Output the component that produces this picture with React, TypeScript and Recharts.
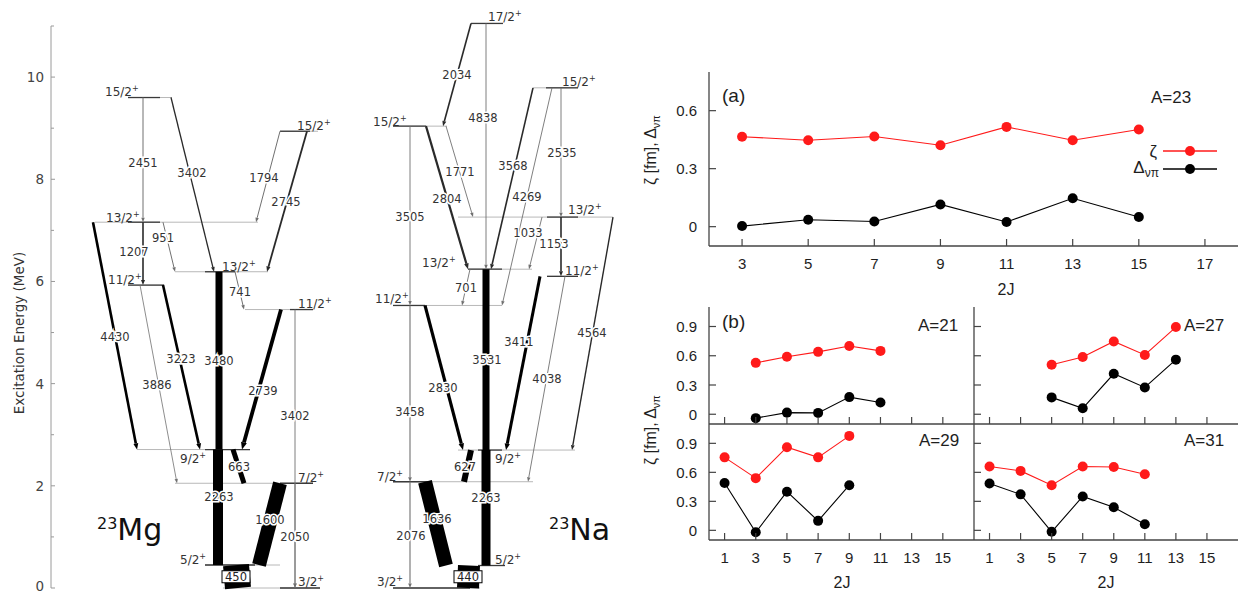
import React from 'react';
import { ScatterChart, Scatter, XAxis, YAxis, ReferenceLine, LineChart, Line, Legend } from 'recharts';

const SANS = '"Liberation Sans", Arial, Helvetica, sans-serif';
const SFONT = '"DejaVu Sans", Verdana, sans-serif';
const RED = '#ff1a1a';
const FRAME = '#444';
const TXT = '#1e1e1e';

/* ================= 23Mg level scheme : values ================= */
const mgLevelE = [9.6, 8.94, 7.16, 6.19, 5.93, 5.45, 2.71, 2.05, 0.45, 0];
const mgLevelJ = ['15/2', '15/2', '13/2', '13/2', '11/2', '11/2', '9/2', '7/2', '5/2', '3/2'];
const mgGamma = ['2451', '3402', '1794', '2745', '1207', '951', '741', '3480', '4430', '3886', '3223', '2739', '3402', '663', '2263', '1600', '2050', '450'];
const mgFrom = [0, 0, 1, 1, 2, 2, 3, 3, 2, 4, 4, 5, 5, 6, 6, 7, 7, 8];
const mgTo = [2, 3, 2, 3, 4, 3, 5, 6, 6, 7, 6, 6, 9, 7, 8, 8, 9, 9];
/* relative intensities, drawn as line thickness */
const mgIntensity = [1, 1.3, 1, 1.8, 1.6, 1, 1, 7, 2.6, 0.8, 2.6, 3.8, 0.9, 5, 10, 14, 0.9, 26];

/* 23Mg layout (horizontal placement in the drawing) */
const mgLevelSpan = [[128, 172], [280, 318], [95, 258], [175, 268], [128, 164], [245, 313], [137, 250], [175, 313], [205, 280], [223, 320]];
const mgLevelCore = [[128, 160], [280, 310], [128, 160], [205, 235], [128, 164], [290, 313], [205, 250], [280, 313], [205, 255], [280, 320]];
const mgJPos = [[105, 9.71], [297, 9.06], [106, 7.26], [222, 6.3], [108, 6.03], [298, 5.56], [180, 2.54], [298, 2.17], [180, 0.55], [298, 0.12]];
const mgGammaX = [[143, 143], [171, 214], [280, 256], [307, 267], [143, 143], [163, 175], [235, 244], [219, 219], [93, 137], [140, 177], [163, 200], [281, 242], [295, 295], [233, 244], [218, 218], [280, 259], [295, 295], [236, 238]];
const mgGammaLabelPos = [[143, 8.32], [192, 8.12], [264, 8.03], [286, 7.56], [134, 6.58], [163, 6.85], [240, 5.79], [219, 4.44], [115, 4.91], [157, 3.97], [181, 4.48], [263, 3.86], [295, 3.37], [239, 2.37], [219, 1.78], [270, 1.33], [295, 1.0], [236, 0.22]];

/* ================= 23Na level scheme : values ================= */
const naLevelE = [11.05, 9.79, 9.04, 7.26, 6.24, 6.1, 5.53, 2.7, 2.08, 0.44, 0];
const naLevelJ = ['17/2', '15/2', '15/2', '13/2', '13/2', '11/2', '11/2', '9/2', '7/2', '5/2', '3/2'];
const naGamma = ['2034', '4838', '3505', '1771', '2804', '3568', '4269', '2535', '1153', '1033', '701', '3531', '4564', '3411', '4038', '2830', '3458', '2076', '627', '2263', '1636', '440'];
const naFrom = [0, 0, 2, 2, 2, 1, 1, 1, 3, 3, 4, 4, 3, 5, 5, 6, 6, 8, 7, 7, 8, 9];
const naTo = [2, 4, 6, 3, 4, 4, 6, 3, 5, 4, 6, 7, 7, 7, 8, 7, 8, 10, 8, 9, 9, 10];
const naIntensity = [1.6, 0.9, 0.9, 0.9, 2.2, 1.6, 0.9, 0.9, 1.6, 0.9, 0.9, 7, 1.4, 3, 0.9, 3.2, 1.1, 1.1, 6, 9, 14, 22];

/* 23Na layout */
const naLevelSpan = [[471, 503], [533, 578], [393, 447], [458, 613], [468, 532], [547, 578], [393, 502], [458, 575], [393, 533], [478, 505], [393, 480]];
const naLevelCore = [[471, 503], [546, 578], [393, 426], [547, 578], [468, 502], [547, 578], [393, 425], [478, 502], [393, 430], [478, 505], [393, 470]];
const naJPos = [[488, 11.18], [562, 9.92], [373, 9.14], [568, 7.4], [422, 6.38], [565, 6.22], [375, 5.66], [495, 2.54], [377, 2.19], [495, 0.55], [377, 0.12]];
const naGammaX = [[471, 443], [486, 486], [410, 410], [446, 473], [426, 468], [533, 491], [552, 502], [561, 561], [561, 561], [542, 529], [470, 462], [486, 486], [613, 572], [540, 506], [565, 528], [425, 463], [410, 410], [410, 410], [471, 464], [486, 486], [425, 446], [469, 468]];
const naGammaLabelPos = [[457, 10.04], [483, 9.2], [410, 7.26], [460, 8.14], [447, 7.61], [513, 8.26], [527, 7.65], [562, 8.51], [554, 6.73], [528, 6.95], [466, 5.87], [487, 4.46], [592, 4.99], [519, 4.82], [547, 4.09], [443, 3.91], [410, 3.44], [411, 1.02], [465, 2.37], [486, 1.76], [437, 1.35], [468, 0.22]];

const energyTicks = [0, 1, 2, 3, 4, 5, 6, 7, 8, 9, 10, 11];

/* ================= zeta / Delta panels : values ================= */
const twoJ_A23 = [3, 5, 7, 9, 11, 13, 15];
const zeta_A23 = [0.465, 0.447, 0.466, 0.421, 0.516, 0.447, 0.503];
const delta_A23 = [0.003, 0.036, 0.027, 0.115, 0.024, 0.147, 0.05];

const twoJ_A21 = [3, 5, 7, 9, 11];
const zeta_A21 = [0.527, 0.59, 0.64, 0.7, 0.65];
const delta_A21 = [-0.04, 0.017, 0.014, 0.176, 0.12];

const twoJ_A27 = [5, 7, 9, 11, 13];
const zeta_A27 = [0.507, 0.588, 0.747, 0.608, 0.894];
const delta_A27 = [0.173, 0.061, 0.415, 0.275, 0.56];

const twoJ_A29 = [1, 3, 5, 7, 9];
const zeta_A29 = [0.755, 0.54, 0.86, 0.755, 0.977];
const delta_A29 = [0.49, -0.02, 0.4, 0.098, 0.467];

const twoJ_A31 = [1, 3, 5, 7, 9, 11];
const zeta_A31 = [0.66, 0.615, 0.467, 0.66, 0.655, 0.58];
const delta_A31 = [0.485, 0.372, -0.015, 0.35, 0.238, 0.063];

const xTicksA = [3, 5, 7, 9, 11, 13, 15, 17];
const yTicksA = [0, 0.3, 0.6];
const xTicksB = [1, 3, 5, 7, 9, 11, 13, 15];
const yTicksB = [0, 0.3, 0.6, 0.9];

/* ================= level scheme drawing ================= */
const E_MAX = 11.4;
const MEV_PX = 562 / 11;
const SCHEME_H = 594;
const SCHEME_BOTTOM = 6;
const SCHEME_TOP = SCHEME_H - SCHEME_BOTTOM - E_MAX * MEV_PX;
const X_MIN = 51;
const X_MAX = 640;

const toneOf = (w: number) => (w >= 2.5 ? '#000' : w >= 1.25 ? '#2a2a2a' : '#707070');

function TransitionShape(props: any) {
  const { x1, y1, x2, y2, stroke } = props;
  const w = Number(props.strokeWidth);
  const dx = x2 - x1;
  const dy = y2 - y1;
  const len = Math.hypot(dx, dy);
  if (w >= 4.5 || len === 0) {
    return <line x1={x1} y1={y1} x2={x2} y2={y2} stroke={stroke} strokeWidth={w} />;
  }
  const ux = dx / len;
  const uy = dy / len;
  const al = 3.5 + w * 1.0;
  const ah = 1.3 + w * 0.45;
  const bx = x2 - ux * al;
  const by = y2 - uy * al;
  const pts = `${x2},${y2} ${bx - uy * ah},${by + ux * ah} ${bx + uy * ah},${by - ux * ah}`;
  return (
    <g>
      <line x1={x1} y1={y1} x2={bx} y2={by} stroke={stroke} strokeWidth={w} />
      <polygon points={pts} fill={stroke} />
    </g>
  );
}

function buildLines(prefix: string, levelE: number[], span: number[][], core: number[][], from: number[], to: number[], gx: number[][], gw: number[]) {
  const out: any[] = [];
  levelE.forEach((E, i) => {
    out.push(
      <ReferenceLine key={`${prefix}s${i}`} segment={[{ x: span[i][0], y: E }, { x: span[i][1], y: E }]} stroke="#b8b8b8" strokeWidth={1} ifOverflow="visible" />
    );
    out.push(
      <ReferenceLine key={`${prefix}c${i}`} segment={[{ x: core[i][0], y: E }, { x: core[i][1], y: E }]} stroke="#3a3a3a" strokeWidth={1.3} ifOverflow="visible" />
    );
  });
  from.forEach((f, k) => {
    const w = gw[k];
    out.push(
      <ReferenceLine
        key={`${prefix}g${k}`}
        segment={[{ x: gx[k][0], y: levelE[f] }, { x: gx[k][1], y: levelE[to[k]] }]}
        stroke={toneOf(w)}
        strokeWidth={w}
        ifOverflow="visible"
        shape={TransitionShape}
      />
    );
  });
  return out;
}

const schemeLabels = [
  ...mgLevelJ.map((t, i) => ({ x: mgJPos[i][0], E: mgJPos[i][1], text: t, kind: 'J' })),
  ...mgGamma.map((t, i) => ({ x: mgGammaLabelPos[i][0], E: mgGammaLabelPos[i][1], text: t, kind: mgIntensity[i] > 20 ? 'box' : 'g' })),
  ...naLevelJ.map((t, i) => ({ x: naJPos[i][0], E: naJPos[i][1], text: t, kind: 'J' })),
  ...naGamma.map((t, i) => ({ x: naGammaLabelPos[i][0], E: naGammaLabelPos[i][1], text: t, kind: naIntensity[i] > 20 ? 'box' : 'g' })),
  { x: 97, E: 0.94, text: 'Mg', mass: '23', kind: 'title' },
  { x: 549, E: 0.94, text: 'Na', mass: '23', kind: 'title' },
];

function SchemeLabel(props: any) {
  const p = props.payload || {};
  const cx = props.cx;
  const cy = props.cy;
  if (p.kind === 'J') {
    return (
      <text x={cx} y={cy + 4.5} fontSize={12} fill="#333" fontFamily={SFONT}>
        {p.text}
        <tspan fontSize={8} dy={-5}>+</tspan>
      </text>
    );
  }
  if (p.kind === 'box') {
    return (
      <g>
        <rect x={cx - 14} y={cy - 6} width={28} height={12} fill="#fff" stroke="#000" strokeWidth={1} />
        <text x={cx} y={cy + 4.3} textAnchor="middle" fontSize={11.5} fill="#222" fontFamily={SFONT}>{p.text}</text>
      </g>
    );
  }
  if (p.kind === 'title') {
    return (
      <text x={cx} y={cy} fontSize={30} fill="#111" fontFamily={SFONT}>
        <tspan fontSize={16} dy={-11}>{p.mass}</tspan>
        <tspan dy={11}>{p.text}</tspan>
      </text>
    );
  }
  return (
    <text x={cx} y={cy + 4.2} textAnchor="middle" fontSize={11.5} fill="#333" stroke="#fff" strokeWidth={3} paintOrder="stroke" fontFamily={SFONT}>
      {p.text}
    </text>
  );
}

function SchemeTick(props: any) {
  const { x, y, payload } = props;
  const v = payload.value;
  const even = v % 2 === 0;
  return (
    <g>
      <line x1={x + 7} x2={x + 7 + (even ? 4 : 3)} y1={y} y2={y} stroke="#999" strokeWidth={1} />
      {even && (
        <text x={x} y={v === 0 ? y + 2.5 : y + 5} textAnchor="end" fontSize={13.5} fill="#444" fontFamily={SFONT}>
          {v}
        </text>
      )}
    </g>
  );
}

function LevelScheme() {
  const lines = [
    ...buildLines('mg', mgLevelE, mgLevelSpan, mgLevelCore, mgFrom, mgTo, mgGammaX, mgIntensity),
    ...buildLines('na', naLevelE, naLevelSpan, naLevelCore, naFrom, naTo, naGammaX, naIntensity),
  ];
  return (
    <ScatterChart width={X_MAX} height={SCHEME_H} margin={{ top: SCHEME_TOP, right: 0, bottom: SCHEME_BOTTOM, left: 0 }}>
      <XAxis type="number" dataKey="x" domain={[X_MIN, X_MAX]} hide height={0} allowDataOverflow />
      <YAxis
        type="number"
        dataKey="E"
        domain={[0, E_MAX]}
        ticks={energyTicks}
        interval={0}
        width={X_MIN}
        axisLine={false}
        tickLine={false}
        tickSize={0}
        tickMargin={7}
        tick={SchemeTick}
        allowDataOverflow
      />
      <ReferenceLine segment={[{ x: X_MIN, y: 0 }, { x: X_MIN, y: 11 }]} stroke="#9a9a9a" strokeWidth={1} ifOverflow="visible" />
      {lines}
      <Scatter data={schemeLabels} shape={SchemeLabel} isAnimationActive={false} />
    </ScatterChart>
  );
}

/* ================= zeta / Delta panels ================= */
const TICK = 7;
const Y_TM = 12;
const X_TM = 17;
const fmtY = (v: number) => (Math.abs(v) < 1e-9 ? '0' : v.toFixed(1));

function LeftTick(props: any) {
  const { x, y, payload, show } = props;
  const ax = x + Y_TM;
  return (
    <g>
      <line x1={ax} x2={ax + TICK} y1={y} y2={y} stroke={FRAME} strokeWidth={1.2} />
      {show && (
        <text x={x} y={y + 5.5} textAnchor="end" fontSize={15} fill={TXT} fontFamily={SANS}>
          {fmtY(payload.value)}
        </text>
      )}
    </g>
  );
}
function RightTick(props: any) {
  const { x, y } = props;
  return <line x1={x - TICK} x2={x} y1={y} y2={y} stroke={FRAME} strokeWidth={1.2} />;
}
function BottomTick(props: any) {
  const { x, y, payload, show } = props;
  const ay = y - X_TM;
  return (
    <g>
      <line x1={x} x2={x} y1={ay} y2={ay - TICK} stroke={FRAME} strokeWidth={1.2} />
      {show && (
        <text x={x} y={y + 5.5} textAnchor="middle" fontSize={15} fill={TXT} fontFamily={SANS}>
          {payload.value}
        </text>
      )}
    </g>
  );
}
function TopTick(props: any) {
  const { x, y } = props;
  return <line x1={x} x2={x} y1={y} y2={y + TICK} stroke={FRAME} strokeWidth={1.2} />;
}

const LegendContent = () => (
  <svg width={110} height={42} style={{ display: 'block', overflow: 'visible' }}>
    <text x={37} y={17} textAnchor="end" fontSize={17} fill={TXT} fontFamily={SANS}>ζ</text>
    <line x1={43} x2={97} y1={11} y2={11} stroke={RED} strokeWidth={1.3} />
    <circle cx={70} cy={11} r={5} fill={RED} />
    <text x={39} y={33} textAnchor="end" fontSize={17} fill={TXT} fontFamily={SANS}>
      Δ<tspan fontSize={12} dy={4}>νπ</tspan>
    </text>
    <line x1={43} x2={97} y1={29} y2={29} stroke="#000" strokeWidth={1.3} />
    <circle cx={70} cy={29} r={5} fill="#000" />
  </svg>
);

function Panel(props: any) {
  const { left, top, w, h, twoJ, zeta, delta, xDomain, xTicks, yDomain, yTicks, xLabels, yLabels, legend } = props;
  const PADL = 60;
  const PADT = 2;
  const PADR = 2;
  const PADB = xLabels ? 30 : 2;
  const data = twoJ.map((j: number, i: number) => ({ j, zeta: zeta[i], delta: delta[i] }));
  const axisLine = { stroke: FRAME, strokeWidth: 1.3 };
  return (
    <div style={{ position: 'absolute', left: left - PADL, top: top - PADT }}>
      <LineChart width={PADL + w + PADR} height={PADT + h + PADB} data={data} margin={{ top: PADT, right: PADR, bottom: 0, left: 0 }}>
        <XAxis xAxisId="b" type="number" dataKey="j" domain={xDomain} ticks={xTicks} interval={0} height={PADB} tickLine={false} tickSize={0} tickMargin={X_TM} axisLine={axisLine} tick={(p: any) => <BottomTick {...p} show={xLabels} />} allowDataOverflow />
        <XAxis xAxisId="t" orientation="top" type="number" dataKey="j" domain={xDomain} ticks={xTicks} interval={0} height={0} tickLine={false} tickSize={0} tickMargin={0} axisLine={axisLine} tick={TopTick} allowDataOverflow />
        <YAxis yAxisId="l" type="number" domain={yDomain} ticks={yTicks} interval={0} width={PADL} tickLine={false} tickSize={0} tickMargin={Y_TM} axisLine={axisLine} tick={(p: any) => <LeftTick {...p} show={yLabels} />} allowDataOverflow />
        <YAxis yAxisId="r" orientation="right" type="number" domain={yDomain} ticks={yTicks} interval={0} width={0} tickLine={false} tickSize={0} tickMargin={0} axisLine={axisLine} tick={RightTick} allowDataOverflow />
        <Line xAxisId="b" yAxisId="l" type="linear" dataKey="zeta" stroke={RED} strokeWidth={1.1} dot={{ r: 5, fill: RED, stroke: RED, strokeWidth: 0 }} activeDot={false} isAnimationActive={false} />
        <Line xAxisId="b" yAxisId="l" type="linear" dataKey="delta" stroke="#000" strokeWidth={1.1} dot={{ r: 5, fill: '#000', stroke: '#000', strokeWidth: 0 }} activeDot={false} isAnimationActive={false} />
        {legend && (
          <Legend
            layout="vertical"
            align="center"
            verticalAlign="middle"
            content={LegendContent}
            wrapperStyle={{ left: 1120 - (left - PADL), top: 140 - (top - PADT), width: 110, height: 42 }}
          />
        )}
      </LineChart>
    </div>
  );
}

export default function App() {
  const bDom = [0, 17];
  const bY = [-0.1, 1.1];
  return (
    <div style={{ position: 'absolute', left: 0, top: 0, width: 1239, height: 594, background: '#fff', overflow: 'hidden' }}>
      <div style={{ position: 'absolute', left: 0, top: 0 }}>
        <LevelScheme />
      </div>

      <Panel left={709} top={72} w={529} h={174} twoJ={twoJ_A23} zeta={zeta_A23} delta={delta_A23} xDomain={[2, 18]} xTicks={xTicksA} yDomain={[-0.1, 0.8]} yTicks={yTicksA} xLabels yLabels legend />

      <Panel left={709} top={307} w={265} h={117} twoJ={twoJ_A21} zeta={zeta_A21} delta={delta_A21} xDomain={bDom} xTicks={xTicksB} yDomain={bY} yTicks={yTicksB} xLabels={false} yLabels />
      <Panel left={974} top={307} w={264} h={117} twoJ={twoJ_A27} zeta={zeta_A27} delta={delta_A27} xDomain={bDom} xTicks={xTicksB} yDomain={bY} yTicks={yTicksB} xLabels={false} yLabels={false} />
      <Panel left={709} top={424} w={265} h={116} twoJ={twoJ_A29} zeta={zeta_A29} delta={delta_A29} xDomain={bDom} xTicks={xTicksB} yDomain={bY} yTicks={yTicksB} xLabels yLabels />
      <Panel left={974} top={424} w={264} h={116} twoJ={twoJ_A31} zeta={zeta_A31} delta={delta_A31} xDomain={bDom} xTicks={xTicksB} yDomain={bY} yTicks={yTicksB} xLabels yLabels={false} />

      <svg width={1239} height={594} style={{ position: 'absolute', left: 0, top: 0, pointerEvents: 'none' }}>
        <text transform="translate(24,333) rotate(-90)" textAnchor="middle" fontSize={13.5} fill="#333" fontFamily={SFONT}>
          Excitation Energy (MeV)
        </text>

        <text x={722} y={102} fontSize={19} fill={TXT} fontFamily={SANS}>(a)</text>
        <text x={1151} y={103} fontSize={17} fill={TXT} fontFamily={SANS}>A=23</text>
        <text x={1006} y={295} textAnchor="middle" fontSize={16} fill={TXT} fontFamily={SANS}>2J</text>
        <text transform="translate(656,150) rotate(-90)" textAnchor="middle" fontSize={16} fill={TXT} fontFamily={SANS}>
          ζ [fm], Δ<tspan fontSize={11} dy={4}>νπ</tspan>
        </text>

        <text x={722} y={328} fontSize={19} fill={TXT} fontFamily={SANS}>(b)</text>
        <text x={918} y={331} fontSize={17} fill={TXT} fontFamily={SANS}>A=21</text>
        <text x={1184} y={331} fontSize={17} fill={TXT} fontFamily={SANS}>A=27</text>
        <text x={919} y={446} fontSize={17} fill={TXT} fontFamily={SANS}>A=29</text>
        <text x={1184} y={446} fontSize={17} fill={TXT} fontFamily={SANS}>A=31</text>
        <text x={842} y={588} textAnchor="middle" fontSize={16} fill={TXT} fontFamily={SANS}>2J</text>
        <text x={1106} y={588} textAnchor="middle" fontSize={16} fill={TXT} fontFamily={SANS}>2J</text>
        <text transform="translate(656,430) rotate(-90)" textAnchor="middle" fontSize={16} fill={TXT} fontFamily={SANS}>
          ζ [fm], Δ<tspan fontSize={11} dy={4}>νπ</tspan>
        </text>
      </svg>
    </div>
  );
}
